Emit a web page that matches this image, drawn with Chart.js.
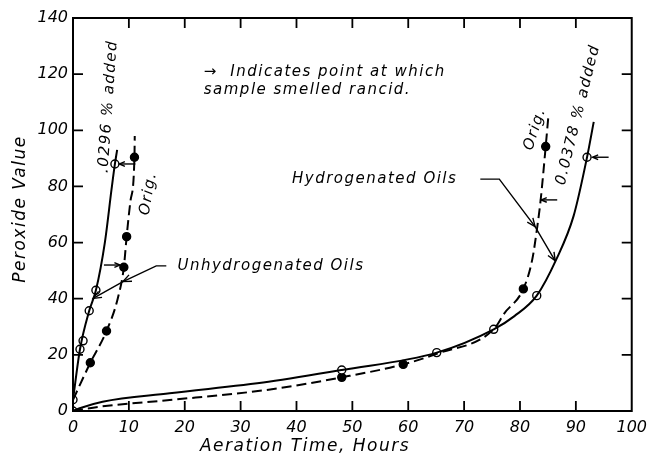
<!DOCTYPE html>
<html>
<head>
<meta charset="utf-8">
<script src="https://cdn.jsdelivr.net/npm/chart.js@4/dist/chart.umd.min.js"></script>
<style>
  html, body { margin: 0; padding: 0; background: #fff; }
  canvas { display: block; }
</style>
</head>
<body>
<canvas id="peroxideChart" width="654" height="460"></canvas>
<script>
// axis ranges / ticks
const xTicks = [0, 10, 20, 30, 40, 50, 60, 70, 80, 90, 100];
const yTicks = [0, 20, 40, 60, 80, 100, 120, 140];

// Unhydrogenated oils, .0296 % added (open circles, solid line)
const unhydAddedPts = [[0, 4], [1.25, 22], [1.8, 25], [2.9, 35.7], [4.1, 43], [7.5, 88]];
const unhydAddedCurve = [[0, 4], [1.25, 22], [2.9, 35.7], [4.1, 43], [5.7, 60], [6.9, 79], [7.5, 88], [7.9, 93]];

// Unhydrogenated oils, original (filled circles, dashed line)
const unhydOrigPts = [[3.1, 17.2], [6.0, 28.5], [9.1, 51.2], [9.6, 62.1], [11.0, 90.4]];
const unhydOrigCurve = [[0, 4], [3.1, 17.2], [6.0, 28.5], [8.0, 40], [9.1, 51.2], [9.6, 62.1], [10.3, 75], [11.0, 90.4], [11.05, 98]];

// Hydrogenated oils, 0.0378 % added (open circles, solid line)
const hydAddedPts = [[0, 0], [48.1, 14.6], [65.1, 20.8], [75.3, 29.1], [83.0, 41.1], [92.0, 90.4]];
const hydAddedCurve = [[0, 0], [1.2, 1], [5.3, 3.3], [17.3, 6.3], [35, 10.4], [48.1, 14.6], [65.1, 20.8], [75.3, 29.1], [79, 33.8], [83.0, 41.1], [86.5, 54], [89.6, 69.5], [92.0, 90.4], [93.2, 103]];

// Hydrogenated oils, original (filled circles, dashed line)
const hydOrigPts = [[48.1, 12.0], [59.1, 16.6], [80.6, 43.5], [84.6, 94.2]];
const hydOrigCurve = [[0, 0], [5, 1.6], [17.3, 3.9], [35, 7.6], [48.1, 12.0], [59.1, 16.6], [65.1, 20.4], [75.3, 29.1], [77.2, 34.8], [80.6, 43.5], [82.2, 54], [83.1, 65.7], [83.7, 75.2], [84.6, 94.2], [85.05, 104.3]];

// "smelled rancid" arrows: tip x, y and which side the tail sits on
const rancidX = [8.3, 8.4, 83.8, 93.0];
const rancidY = [88, 52, 75.2, 90.4];
const rancidSide = [1, -1, 1, 1];

// leader lines for the group labels (polyline, arrowheads at the last two points)
const unhydLeader = [[16.7, 51.7], [14.9, 51.7], [8.95, 46.1], [3.6, 40.1]];
const hydLeader = [[72.9, 82.6], [76.3, 82.6], [82.7, 65.7], [86.3, 53.5]];

// free text: [text, x, y, angle, align]
const notes = [
  ['.0296 % added', 6.3, 108.5, -86, 'center'],
  ['Orig.', 13.5, 77.5, -80, 'center'],
  ['Orig.', 82.7, 100.5, -72, 'center'],
  ['0.0378 % added', 90.4, 105.5, -76, 'center'],
  ['Unhydrogenated Oils', 18.7, 51.7, 0, 'left'],
  ['Hydrogenated Oils', 39.2, 82.6, 0, 'left'],
  ['\u2192  Indicates point at which', 23.4, 120.6, 0, 'left'],
  ['sample smelled rancid.', 23.4, 114.2, 0, 'left']
];

const FONT = '"DejaVu Sans", sans-serif';

const toXY = arr => arr.map(p => ({ x: p[0], y: p[1] }));

function curve(data, dashed) {
  return {
    data: toXY(data),
    showLine: true,
    borderColor: '#000',
    borderWidth: 2,
    borderDash: dashed ? [10, 5] : [],
    cubicInterpolationMode: 'monotone',
    pointRadius: 0,
    pointHoverRadius: 0,
    fill: false
  };
}

function marks(data, filled) {
  return {
    data: toXY(data),
    showLine: false,
    pointRadius: 4,
    pointBorderWidth: 1.4,
    pointBorderColor: '#000',
    pointBackgroundColor: filled ? '#000' : '#fff'
  };
}

function arrowHead(ctx, x0, y0, x1, y1, len) {
  const a = Math.atan2(y1 - y0, x1 - x0);
  ctx.beginPath();
  ctx.moveTo(x1 - len * Math.cos(a - 0.4), y1 - len * Math.sin(a - 0.4));
  ctx.lineTo(x1, y1);
  ctx.lineTo(x1 - len * Math.cos(a + 0.4), y1 - len * Math.sin(a + 0.4));
  ctx.stroke();
}

const paperPlugin = {
  id: 'paper',
  afterDatasetsDraw(chart) {
    const { ctx, chartArea: ca, scales } = chart;
    const px = v => scales.x.getPixelForValue(v);
    const py = v => scales.y.getPixelForValue(v);
    ctx.save();
    ctx.strokeStyle = '#000';
    ctx.fillStyle = '#000';

    // frame + inward ticks on all four sides
    ctx.lineWidth = 2;
    ctx.strokeRect(ca.left, ca.top, ca.right - ca.left, ca.bottom - ca.top);
    ctx.lineWidth = 1.8;
    ctx.beginPath();
    xTicks.slice(1, -1).forEach(v => {
      const x = px(v);
      ctx.moveTo(x, ca.bottom); ctx.lineTo(x, ca.bottom - 10);
      ctx.moveTo(x, ca.top); ctx.lineTo(x, ca.top + 10);
    });
    yTicks.slice(1, -1).forEach(v => {
      const y = py(v);
      ctx.moveTo(ca.left, y); ctx.lineTo(ca.left + 10, y);
      ctx.moveTo(ca.right, y); ctx.lineTo(ca.right - 10, y);
    });
    ctx.stroke();

    // rancid arrows
    ctx.lineWidth = 1.4;
    rancidX.forEach((v, i) => {
      const tx = px(v), ty = py(rancidY[i]);
      const sx = tx + rancidSide[i] * 16;
      ctx.beginPath(); ctx.moveTo(sx, ty); ctx.lineTo(tx, ty); ctx.stroke();
      arrowHead(ctx, sx, ty, tx, ty, 6);
    });

    // leader lines
    [unhydLeader, hydLeader].forEach(pts => {
      const p = pts.map(q => [px(q[0]), py(q[1])]);
      ctx.lineWidth = 1.4;
      ctx.beginPath();
      p.forEach((q, i) => i ? ctx.lineTo(q[0], q[1]) : ctx.moveTo(q[0], q[1]));
      ctx.stroke();
      arrowHead(ctx, p[1][0], p[1][1], p[2][0], p[2][1], 9);
      arrowHead(ctx, p[2][0], p[2][1], p[3][0], p[3][1], 9);
    });

    // notes
    ctx.font = 'italic 15px ' + FONT;
    ctx.letterSpacing = '1.5px';
    ctx.textBaseline = 'middle';
    notes.forEach(([t, x, y, ang, align]) => {
      ctx.save();
      ctx.translate(px(x), py(y));
      ctx.rotate(ang * Math.PI / 180);
      ctx.textAlign = align;
      ctx.fillText(t, 0, 0);
      ctx.restore();
    });

    // axis titles
    ctx.font = 'italic 17px ' + FONT;
    ctx.letterSpacing = '1.5px';
    ctx.textAlign = 'center';
    ctx.fillText('Aeration Time, Hours', 305, 447);
    ctx.translate(21, 209);
    ctx.rotate(-Math.PI / 2);
    ctx.fillText('Peroxide Value', 0, 0);
    ctx.restore();
  }
};

new Chart(document.getElementById('peroxideChart'), {
  type: 'scatter',
  data: {
    datasets: [
      curve(unhydAddedCurve, false),
      curve(unhydOrigCurve, true),
      curve(hydAddedCurve, false),
      curve(hydOrigCurve, true),
      marks(unhydAddedPts, false),
      marks(unhydOrigPts, true),
      marks(hydAddedPts, false),
      marks(hydOrigPts, true)
    ]
  },
  options: {
    responsive: false,
    animation: false,
    events: [],
    layout: { padding: { top: 18, right: 19, left: 0, bottom: 0 } },
    plugins: { legend: { display: false }, tooltip: { enabled: false } },
    scales: {
      x: {
        type: 'linear', min: 0, max: 100,
        afterFit: s => { s.height = 49; },
        afterBuildTicks: s => { s.ticks = xTicks.map(v => ({ value: v })); },
        ticks: { color: '#000', padding: 7, maxRotation: 0, font: { family: FONT, style: 'italic', size: 16 } },
        grid: { display: false, drawTicks: false },
        border: { display: false }
      },
      y: {
        type: 'linear', min: 0, max: 140,
        afterFit: s => { s.width = 73; },
        afterBuildTicks: s => { s.ticks = yTicks.map(v => ({ value: v })); },
        ticks: { color: '#000', padding: 5, font: { family: FONT, style: 'italic', size: 16 } },
        grid: { display: false, drawTicks: false },
        border: { display: false }
      }
    }
  },
  plugins: [paperPlugin]
});
</script>
</body>
</html>
